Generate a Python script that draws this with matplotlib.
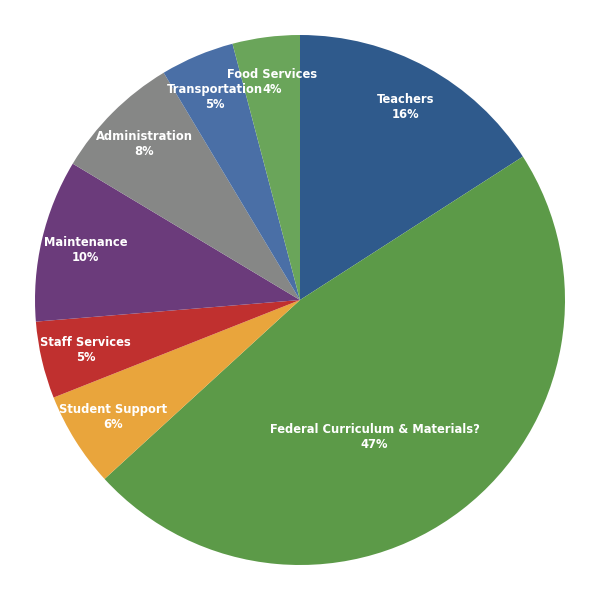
import numpy as np
import matplotlib.pyplot as plt

# Budget shares, clockwise from 12 o'clock
categories = ['Teachers', 'Federal Curriculum & Materials?', 'Student Support',
              'Staff Services', 'Maintenance', 'Administration',
              'Transportation', 'Food Services']
shares = [15.9, 47.3, 5.8, 4.7, 9.9, 7.8, 4.5, 4.1]
pct_labels = ['16%', '47%', '6%', '5%', '10%', '8%', '5%', '4%']
colors = ['#2f5a8c', '#5c9a48', '#e9a53c', '#c0302f', '#6b3b7b',
          '#868786', '#4a6fa6', '#6aa55a']

fig = plt.figure(figsize=(6, 6), dpi=100)
ax = fig.add_axes([0, 0, 1, 1])

labels = [c + '\n' + p for c, p in zip(categories, pct_labels)]
wedges, texts = ax.pie(shares, labels=labels, colors=colors, startangle=90,
                       counterclock=False, labeldistance=0.83,
                       wedgeprops=dict(linewidth=0),
                       textprops=dict(color='white', fontsize=8.3,
                                      family=['DejaVu Sans Condensed', 'DejaVu Sans'],
                                      fontweight='bold', ha='center', va='center',
                                      linespacing=1.2))
for t in texts:
    t.set_horizontalalignment('center')

# the big slice has its label pulled further in
ang = np.deg2rad(90 - 151.5)
texts[1].set_position((0.59 * np.cos(ang), 0.59 * np.sin(ang)))

lim = 300 / 265
ax.set_xlim(-lim, lim)
ax.set_ylim(-lim, lim)
ax.set_aspect('equal')
ax.axis('off')

fig.savefig('out.png', dpi=100, facecolor='white')
